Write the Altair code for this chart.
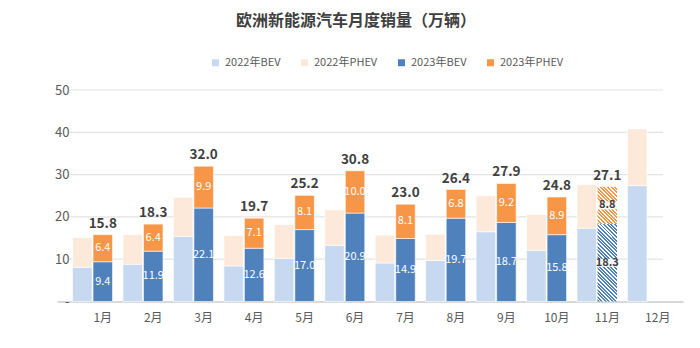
import altair as alt
import pandas as pd

FONT = "Noto Sans CJK SC"

months = [f"{i}月" for i in range(1, 13)]
bev_2022 = [8.1, 8.8, 15.4, 8.4, 10.2, 13.3, 9.1, 9.7, 16.5, 12.1, 17.3, 27.4]
phev_2022 = [7.0, 7.0, 9.2, 7.2, 8.0, 8.4, 6.6, 6.2, 8.5, 8.5, 10.3, 13.4]
bev_2023 = [9.4, 11.9, 22.1, 12.6, 17.0, 20.9, 14.9, 19.7, 18.7, 15.8, 18.3]
phev_2023 = [6.4, 6.4, 9.9, 7.1, 8.1, 10.0, 8.1, 6.8, 9.2, 8.9, 8.8]
total_2023 = [15.8, 18.3, 32.0, 19.7, 25.2, 30.8, 23.0, 26.4, 27.9, 24.8, 27.1]
forecast_month = "11月"

series_names = ["2022年BEV", "2022年PHEV", "2023年BEV", "2023年PHEV"]
series_colors = ["#c6d9f1", "#fde9d9", "#4f81bd", "#f79646"]

rows = []
for i, m in enumerate(months):
    for year, bev, phev in (("2022", bev_2022, phev_2022), ("2023", bev_2023, phev_2023)):
        if i >= len(bev):
            continue
        base = 0.0
        for typ, val in (("BEV", bev[i]), ("PHEV", phev[i])):
            rows.append(dict(month=m, year=year, type=typ, series=f"{year}年{typ}",
                             value=val, y0=base, y1=base + val, mid=base + val / 2,
                             label=f"{val:.1f}",
                             forecast=(year == "2023" and m == forecast_month)))
            base += val
df = pd.DataFrame(rows)
tot = pd.DataFrame(dict(month=months[:len(total_2023)], year="2023", total=total_2023,
                        label=[f"{t:.1f}" for t in total_2023]))
mlab = pd.DataFrame(dict(month=months, year="2023"))
grid = pd.DataFrame(dict(v=[10, 20, 30, 40, 50]))

W, H = 626, 211.5
yscale = alt.Scale(domain=[0, 50], nice=False)
yaxis = alt.Axis(title=None, ticks=False, domain=False, grid=False,
                 values=[0, 10, 20, 30, 40, 50], offset=-12, labelPadding=0,
                 labelExpr="datum.value == 0 ? '-' : datum.label",
                 labelFontSize=13, labelColor="#595959", labelFont=FONT)
xscale = alt.Scale(domain=months, paddingInner=0.207, paddingOuter=0.3075)
xoscale = alt.Scale(domain=["2022", "2023"], paddingInner=0.05)

X = alt.X("month:N", sort=months, scale=xscale,
          axis=alt.Axis(title=None, labels=False, ticks=False, grid=False,
                        domainColor="#d9d9d9", domainWidth=2))
XO = alt.XOffset("year:N", scale=xoscale)


def Y(field):
    return alt.Y(field, scale=yscale, axis=yaxis)


base = alt.Chart(df)

grid_layer = alt.Chart(grid).mark_rule(color="#e3e3e3", strokeWidth=1.2).encode(
    y=Y("v:Q"), x=alt.value(12), x2=alt.value(606))

bars = base.transform_filter("!datum.forecast").mark_bar(
    stroke="white", strokeWidth=0.6).encode(
    x=X, xOffset=XO, y=Y("y1:Q"), y2="y0:Q",
    color=alt.Color("series:N", scale=alt.Scale(domain=series_names, range=series_colors),
                    legend=alt.Legend(title=None, orient="none", legendX=153, legendY=-33,
                                      direction="horizontal", symbolType="square",
                                      symbolSize=49, symbolStrokeWidth=0,
                                      labelFontSize=11, labelColor="#595959",
                                      labelFont=FONT, columnPadding=18, labelOffset=4)))


def hatch(color, value, bar_w=19.5, period=3.6):
    h = value * H / 50
    k = (bar_w + h) / (bar_w ** 2 + h ** 2)
    n = int((bar_w + h) / period) + 1
    stops = []
    for j in range(n):
        a = j / n
        b = (j + 0.55) / n
        c = (j + 1) / n
        stops += [alt.GradientStop(offset=a, color=color), alt.GradientStop(offset=b, color=color),
                  alt.GradientStop(offset=b, color="#ffffff"), alt.GradientStop(offset=c, color="#ffffff")]
    return alt.LinearGradient(gradient="linear", stops=stops, x1=0, y1=1,
                              x2=bar_w * k, y2=1 - h * k)


fc_bev = df[(df.forecast) & (df.type == "BEV")].value.iloc[0]
fc_phev = df[(df.forecast) & (df.type == "PHEV")].value.iloc[0]

hatch_bev = base.transform_filter("datum.forecast && datum.type == 'BEV'").mark_bar(
    color=hatch("#4f81bd", fc_bev)).encode(x=X, xOffset=XO, y=Y("y1:Q"), y2="y0:Q")
hatch_phev = base.transform_filter("datum.forecast && datum.type == 'PHEV'").mark_bar(
    color=hatch("#f79646", fc_phev)).encode(x=X, xOffset=XO, y=Y("y1:Q"), y2="y0:Q")

seg_labels = base.transform_filter("datum.year == '2023' && !datum.forecast").mark_text(
    color="white", fontSize=11, font=FONT).encode(
    x=X, xOffset=XO, y=Y("mid:Q"), text="label:N")

fc_box = base.transform_filter("datum.forecast").mark_point(
    shape="M-1,-0.36L1,-0.36L1,0.36L-1,0.36Z", filled=True, color="white", opacity=0.92,
    size=500).encode(x=X, xOffset=XO, y=Y("mid:Q"))
fc_labels = base.transform_filter("datum.forecast").mark_text(
    color="#404040", fontSize=11, fontWeight="bold", font=FONT).encode(
    x=X, xOffset=XO, y=Y("mid:Q"), text="label:N")

tot_labels = alt.Chart(tot).mark_text(
    color="#404040", fontSize=13.5, fontWeight="bold", font=FONT, baseline="bottom", dy=-4).encode(
    x=X, xOffset=XO, y=Y("total:Q"), text="label:N")

month_labels = alt.Chart(mlab).mark_text(
    color="#595959", fontSize=12, font=FONT, baseline="middle").encode(
    x=X, xOffset=XO, y=alt.value(H + 16), text="month:N")

chart = alt.layer(grid_layer, bars, hatch_bev, hatch_phev, seg_labels, fc_box, fc_labels,
                  tot_labels, month_labels).properties(
    width=W, height=H,
    autosize=alt.AutoSizeParams(type="none"),
    padding={"left": 57, "top": 90, "right": 17, "bottom": 46.5},
    title=alt.TitleParams(text="欧洲新能源汽车月度销量（万辆）", fontSize=16, fontWeight="bold",
                          color="#404040", font=FONT, anchor="middle", frame="group",
                          dx=-14, offset=28),
).configure(background="white").configure_view(stroke=None)

chart.save("out.html", embed_options={"renderer": "svg", "actions": False})
